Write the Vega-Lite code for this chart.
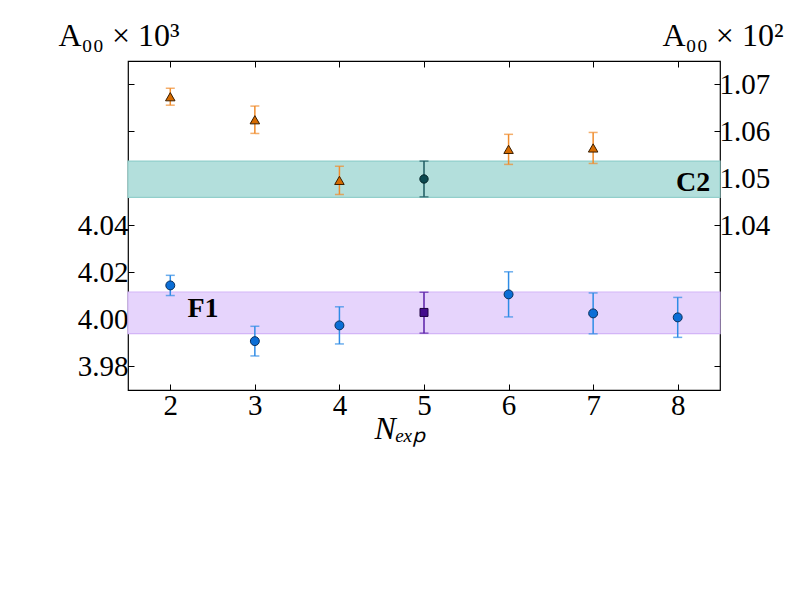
{
  "$schema": "https://vega.github.io/schema/vega-lite/v6.json",
  "width": 592,
  "height": 329,
  "autosize": "none",
  "padding": {"left": 128, "top": 61, "right": 80, "bottom": 210},
  "background": "white",
  "config": {
    "view": {"stroke": "#000000", "strokeWidth": 1.2},
    "axis": {
      "domain": false,
      "grid": false,
      "labelFont": "Liberation Serif",
      "labelFontSize": 29,
      "labelColor": "#000000",
      "tickColor": "#000000",
      "tickWidth": 1,
      "tickSize": -6,
      "titleFont": "Liberation Serif",
      "titleFontSize": 32,
      "titleFontWeight": "normal",
      "titleColor": "#000000"
    },
    "text": {"font": "Liberation Serif"}
  },
  "resolve": {"scale": {"y": "independent"}, "axis": {"x": "independent"}},
  "layer": [
    {
      "layer": [
        {
          "data": {"values": [{"band": "F1", "lo": 3.9938, "hi": 4.0115}]},
          "mark": {"type": "rect", "fill": "#e6d4fc", "stroke": "#d3b5f7", "strokeWidth": 1.2},
          "encoding": {
            "x": {"datum": 1.5, "type": "quantitative", "scale": {"domain": [1.5, 8.5], "nice": false, "zero": false},
              "axis": {"orient": "bottom", "values": [2, 3, 4, 5, 6, 7, 8], "format": "d", "labelFont": "Liberation Serif", "labelFontSize": 29, "labelPadding": 7, "title": "Nₑₓₚ", "titleFont": "Liberation Serif", "titleFontSize": 32, "titleAngle": 0, "titleAlign": "center", "titleBaseline": "alphabetic", "titleX": 272, "titleY": 48, "titleFontStyle": "italic"}},
            "x2": {"datum": 8.5},
            "y": {"field": "lo", "type": "quantitative", "scale": {"domain": [3.9698, 4.1098], "nice": false, "zero": false},
              "axis": {"orient": "left", "values": [3.98, 4.0, 4.02, 4.04, 4.06, 4.08, 4.1], "labelExpr": "datum.value <= 4.045 ? format(datum.value, '.2f') : ''", "labelFont": "Liberation Serif", "labelFontSize": 29, "labelPadding": 6, "title": "A₀₀ × 10³", "titleFont": "Liberation Serif", "titleFontSize": 32, "titleAngle": 0, "titleAlign": "left", "titleBaseline": "alphabetic", "titleX": -70, "titleY": -16}},
            "y2": {"field": "hi"}
          }
        },
        {
          "data": {"name": "f1"},
          "mark": {"type": "rule", "strokeWidth": 1.5},
          "encoding": {
            "x": {"field": "N", "type": "quantitative", "scale": {"domain": [1.5, 8.5], "nice": false, "zero": false}},
            "y": {"field": "lo", "type": "quantitative", "scale": {"domain": [3.9698, 4.1098], "nice": false, "zero": false}},
            "y2": {"field": "hi"},
            "color": {"condition": {"test": "datum.g == 'ref'", "value": "#5a1fa8"}, "value": "#2f8ce6"}
          }
        },
        {
          "data": {"name": "f1"},
          "mark": {"type": "tick", "orient": "horizontal", "size": 9, "thickness": 1.5},
          "encoding": {
            "x": {"field": "N", "type": "quantitative", "scale": {"domain": [1.5, 8.5], "nice": false, "zero": false}},
            "y": {"field": "hi", "type": "quantitative", "scale": {"domain": [3.9698, 4.1098], "nice": false, "zero": false}},
            "color": {"condition": {"test": "datum.g == 'ref'", "value": "#5a1fa8"}, "value": "#2f8ce6"}
          }
        },
        {
          "data": {"name": "f1"},
          "mark": {"type": "tick", "orient": "horizontal", "size": 9, "thickness": 1.5},
          "encoding": {
            "x": {"field": "N", "type": "quantitative", "scale": {"domain": [1.5, 8.5], "nice": false, "zero": false}},
            "y": {"field": "lo", "type": "quantitative", "scale": {"domain": [3.9698, 4.1098], "nice": false, "zero": false}},
            "color": {"condition": {"test": "datum.g == 'ref'", "value": "#5a1fa8"}, "value": "#2f8ce6"}
          }
        },
        {
          "data": {"name": "f1"},
          "transform": [{"filter": "datum.g == 'fit'"}],
          "mark": {"type": "point", "shape": "circle", "filled": true, "size": 80, "fill": "#0b6ed6", "stroke": "#0a2f5c", "strokeWidth": 1, "opacity": 1},
          "encoding": {
            "x": {"field": "N", "type": "quantitative", "scale": {"domain": [1.5, 8.5], "nice": false, "zero": false}},
            "y": {"field": "y", "type": "quantitative", "scale": {"domain": [3.9698, 4.1098], "nice": false, "zero": false}}
          }
        },
        {
          "data": {"name": "f1"},
          "transform": [{"filter": "datum.g == 'ref'"}],
          "mark": {"type": "square", "size": 64, "fill": "#430d8c", "stroke": "#1e0340", "strokeWidth": 1, "opacity": 1},
          "encoding": {
            "x": {"field": "N", "type": "quantitative", "scale": {"domain": [1.5, 8.5], "nice": false, "zero": false}},
            "y": {"field": "y", "type": "quantitative", "scale": {"domain": [3.9698, 4.1098], "nice": false, "zero": false}}
          }
        },
        {
          "data": {"values": [{"N": 2.386, "y": 4.0043, "label": "F1"}]},
          "mark": {"type": "text", "font": "Liberation Serif", "fontSize": 28, "fontWeight": "bold", "align": "center", "baseline": "middle", "color": "#000000"},
          "encoding": {
            "x": {"field": "N", "type": "quantitative", "scale": {"domain": [1.5, 8.5], "nice": false, "zero": false}},
            "y": {"field": "y", "type": "quantitative", "scale": {"domain": [3.9698, 4.1098], "nice": false, "zero": false}},
            "text": {"field": "label"}
          }
        }
      ]
    },
    {
      "layer": [
        {
          "data": {"values": [{"band": "C2", "lo": 1.0459, "hi": 1.0536}]},
          "mark": {"type": "rect", "fill": "#b3dfdc", "stroke": "#92cfcb", "strokeWidth": 1.2},
          "encoding": {
            "x": {"datum": 1.5, "type": "quantitative", "scale": {"domain": [1.5, 8.5], "nice": false, "zero": false},
              "axis": {"orient": "top", "values": [2, 3, 4, 5, 6, 7, 8], "labels": false, "title": null}},
            "x2": {"datum": 8.5},
            "y": {"field": "lo", "type": "quantitative", "scale": {"domain": [1.0049, 1.0749], "nice": false, "zero": false},
              "axis": {"orient": "right", "values": [1.01, 1.02, 1.03, 1.04, 1.05, 1.06, 1.07], "labelExpr": "datum.value >= 1.035 ? format(datum.value, '.2f') : ''", "labelFont": "Liberation Serif", "labelFontSize": 29, "labelPadding": 5, "title": "A₀₀ × 10²", "titleFont": "Liberation Serif", "titleFontSize": 32, "titleAngle": 0, "titleAlign": "right", "titleBaseline": "alphabetic", "titleX": 63, "titleY": -16}},
            "y2": {"field": "hi"}
          }
        },
        {
          "data": {"name": "c2"},
          "mark": {"type": "rule", "strokeWidth": 1.5},
          "encoding": {
            "x": {"field": "N", "type": "quantitative", "scale": {"domain": [1.5, 8.5], "nice": false, "zero": false}},
            "y": {"field": "lo", "type": "quantitative", "scale": {"domain": [1.0049, 1.0749], "nice": false, "zero": false}},
            "y2": {"field": "hi"},
            "color": {"condition": {"test": "datum.g == 'ref'", "value": "#1d5a61"}, "value": "#f08c2c"}
          }
        },
        {
          "data": {"name": "c2"},
          "mark": {"type": "tick", "orient": "horizontal", "size": 9, "thickness": 1.5},
          "encoding": {
            "x": {"field": "N", "type": "quantitative", "scale": {"domain": [1.5, 8.5], "nice": false, "zero": false}},
            "y": {"field": "hi", "type": "quantitative", "scale": {"domain": [1.0049, 1.0749], "nice": false, "zero": false}},
            "color": {"condition": {"test": "datum.g == 'ref'", "value": "#1d5a61"}, "value": "#f08c2c"}
          }
        },
        {
          "data": {"name": "c2"},
          "mark": {"type": "tick", "orient": "horizontal", "size": 9, "thickness": 1.5},
          "encoding": {
            "x": {"field": "N", "type": "quantitative", "scale": {"domain": [1.5, 8.5], "nice": false, "zero": false}},
            "y": {"field": "lo", "type": "quantitative", "scale": {"domain": [1.0049, 1.0749], "nice": false, "zero": false}},
            "color": {"condition": {"test": "datum.g == 'ref'", "value": "#1d5a61"}, "value": "#f08c2c"}
          }
        },
        {
          "data": {"name": "c2"},
          "transform": [{"filter": "datum.g == 'fit'"}],
          "mark": {"type": "point", "shape": "triangle-up", "filled": true, "size": 90, "fill": "#d66b00", "stroke": "#3a1e00", "strokeWidth": 1, "opacity": 1},
          "encoding": {
            "x": {"field": "N", "type": "quantitative", "scale": {"domain": [1.5, 8.5], "nice": false, "zero": false}},
            "y": {"field": "y", "type": "quantitative", "scale": {"domain": [1.0049, 1.0749], "nice": false, "zero": false}}
          }
        },
        {
          "data": {"name": "c2"},
          "transform": [{"filter": "datum.g == 'ref'"}],
          "mark": {"type": "point", "shape": "circle", "filled": true, "size": 70, "fill": "#0c4950", "stroke": "#04262a", "strokeWidth": 1, "opacity": 1},
          "encoding": {
            "x": {"field": "N", "type": "quantitative", "scale": {"domain": [1.5, 8.5], "nice": false, "zero": false}},
            "y": {"field": "y", "type": "quantitative", "scale": {"domain": [1.0049, 1.0749], "nice": false, "zero": false}}
          }
        },
        {
          "data": {"values": [{"N": 8.386, "y": 1.0489, "label": "C2"}]},
          "mark": {"type": "text", "font": "Liberation Serif", "fontSize": 28, "fontWeight": "bold", "align": "right", "baseline": "middle", "color": "#000000"},
          "encoding": {
            "x": {"field": "N", "type": "quantitative", "scale": {"domain": [1.5, 8.5], "nice": false, "zero": false}},
            "y": {"field": "y", "type": "quantitative", "scale": {"domain": [1.0049, 1.0749], "nice": false, "zero": false}},
            "text": {"field": "label"}
          }
        }
      ]
    }
  ],
  "datasets": {
    "f1": [
      {"N": 2, "y": 4.0143, "lo": 4.0100, "hi": 4.0186, "g": "fit"},
      {"N": 3, "y": 3.9906, "lo": 3.9843, "hi": 3.9969, "g": "fit"},
      {"N": 4, "y": 3.9973, "lo": 3.9894, "hi": 4.0052, "g": "fit"},
      {"N": 5, "y": 4.0028, "lo": 3.9940, "hi": 4.0114, "g": "ref"},
      {"N": 6, "y": 4.0105, "lo": 4.0009, "hi": 4.0201, "g": "fit"},
      {"N": 7, "y": 4.0024, "lo": 3.9937, "hi": 4.0111, "g": "fit"},
      {"N": 8, "y": 4.0007, "lo": 3.9922, "hi": 4.0092, "g": "fit"}
    ],
    "c2": [
      {"N": 2, "y": 1.0673, "lo": 1.0655, "hi": 1.0691, "g": "fit"},
      {"N": 3, "y": 1.0624, "lo": 1.0595, "hi": 1.0653, "g": "fit"},
      {"N": 4, "y": 1.0495, "lo": 1.0465, "hi": 1.0525, "g": "fit"},
      {"N": 5, "y": 1.0498, "lo": 1.0460, "hi": 1.0536, "g": "ref"},
      {"N": 6, "y": 1.0561, "lo": 1.0529, "hi": 1.0593, "g": "fit"},
      {"N": 7, "y": 1.0564, "lo": 1.0531, "hi": 1.0597, "g": "fit"}
    ]
  }
}
